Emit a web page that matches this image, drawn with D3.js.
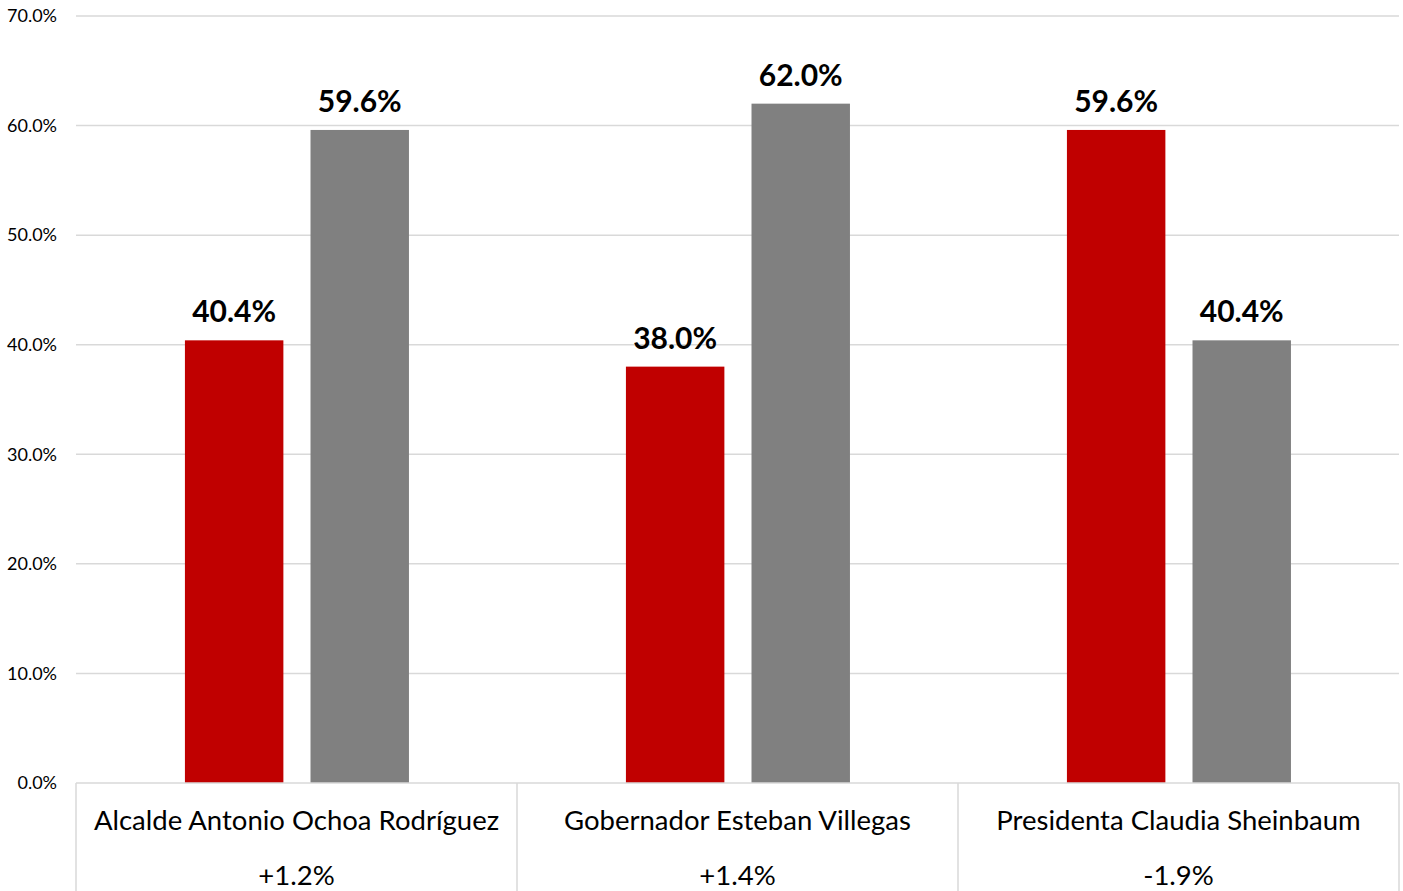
<!DOCTYPE html>
<html>
<head>
<meta charset="utf-8">
<script src="https://cdn.jsdelivr.net/npm/d3@7"></script>
<style>
  body { margin: 0; background: #fff; }
  svg text { font-family: Lato, "Open Sans", sans-serif; fill: #000; }
</style>
</head>
<body>
<div id="chart"></div>
<script>
const categories = ['Alcalde Antonio Ochoa Rodríguez', 'Gobernador Esteban Villegas', 'Presidenta Claudia Sheinbaum'];
const changes = ['+1.2%', '+1.4%', '-1.9%'];
const seriesKeys = ['approve', 'disapprove'];
const approveValues = [40.4, 38.0, 59.6];
const disapproveValues = [59.6, 62.0, 40.4];
const yTicks = [0, 10, 20, 30, 40, 50, 60, 70];

const colors = { approve: '#c00000', disapprove: '#808080' };

const width = 1403, height = 891;
const margin = { top: 16, right: 4, bottom: 108, left: 76 };
const innerW = width - margin.left - margin.right;
const innerH = height - margin.top - margin.bottom;

const rows = categories.map((c, i) => ({
    category: c,
    change: changes[i],
    approve: approveValues[i],
    disapprove: disapproveValues[i]
}));

const svg = d3.select('#chart').append('svg')
    .attr('width', width)
    .attr('height', height);

const g = svg.append('g').attr('transform', `translate(${margin.left},${margin.top})`);

const x0 = d3.scaleBand().domain(categories).range([0, innerW]);
const x1 = d3.scaleBand().domain(seriesKeys)
    .range([x0.bandwidth() * 0.247, x0.bandwidth() * 0.755])
    .paddingInner(0.216);
const y = d3.scaleLinear().domain([0, 70]).range([innerH, 0]);

// gridlines
g.append('g').selectAll('line')
    .data(yTicks.filter(d => d > 0))
    .join('line')
    .attr('x1', 0).attr('x2', innerW)
    .attr('y1', d => y(d)).attr('y2', d => y(d))
    .attr('stroke', '#d9d9d9').attr('stroke-width', 1.5);

// y axis labels
const yAxis = g.append('g')
    .call(d3.axisLeft(y).tickValues(yTicks).tickFormat(d => d.toFixed(1) + '%').tickSize(0).tickPadding(19));
yAxis.select('.domain').remove();
yAxis.selectAll('text').style('font-size', '18px').attr('fill', '#000');

// bars
const groups = g.selectAll('.grp').data(rows).join('g')
    .attr('class', 'grp')
    .attr('transform', d => `translate(${x0(d.category)},0)`);

groups.selectAll('rect')
    .data(d => seriesKeys.map(k => ({ key: k, value: d[k] })))
    .join('rect')
    .attr('x', d => x1(d.key))
    .attr('width', x1.bandwidth())
    .attr('y', d => y(d.value))
    .attr('height', d => innerH - y(d.value))
    .attr('fill', d => colors[d.key]);

groups.selectAll('.val')
    .data(d => seriesKeys.map(k => ({ key: k, value: d[k] })))
    .join('text')
    .attr('class', 'val')
    .attr('x', d => x1(d.key) + x1.bandwidth() / 2)
    .attr('y', d => y(d.value) - 18)
    .attr('text-anchor', 'middle')
    .style('font-size', '30px')
    .style('font-weight', 'bold')
    .text(d => d.value.toFixed(1) + '%');

// x axis: baseline and category separators
const axisG = g.append('g').attr('transform', `translate(0,${innerH})`);
axisG.append('line')
    .attr('x1', 0).attr('x2', innerW)
    .attr('stroke', '#d9d9d9').attr('stroke-width', 1.5);

const seps = categories.map(c => x0(c)).concat([innerW]);
axisG.selectAll('.sep').data(seps).join('line')
    .attr('class', 'sep')
    .attr('x1', d => d).attr('x2', d => d)
    .attr('y1', 0).attr('y2', margin.bottom)
    .attr('stroke', '#d9d9d9').attr('stroke-width', 1.5);

axisG.selectAll('.cat').data(rows).join('text')
    .attr('class', 'cat')
    .attr('x', d => x0(d.category) + x0.bandwidth() / 2)
    .attr('y', 47)
    .attr('text-anchor', 'middle')
    .style('font-size', '27.5px')
    .text(d => d.category);

axisG.selectAll('.chg').data(rows).join('text')
    .attr('class', 'chg')
    .attr('x', d => x0(d.category) + x0.bandwidth() / 2)
    .attr('y', 102)
    .attr('text-anchor', 'middle')
    .style('font-size', '27.5px')
    .text(d => d.change);
</script>
</body>
</html>
